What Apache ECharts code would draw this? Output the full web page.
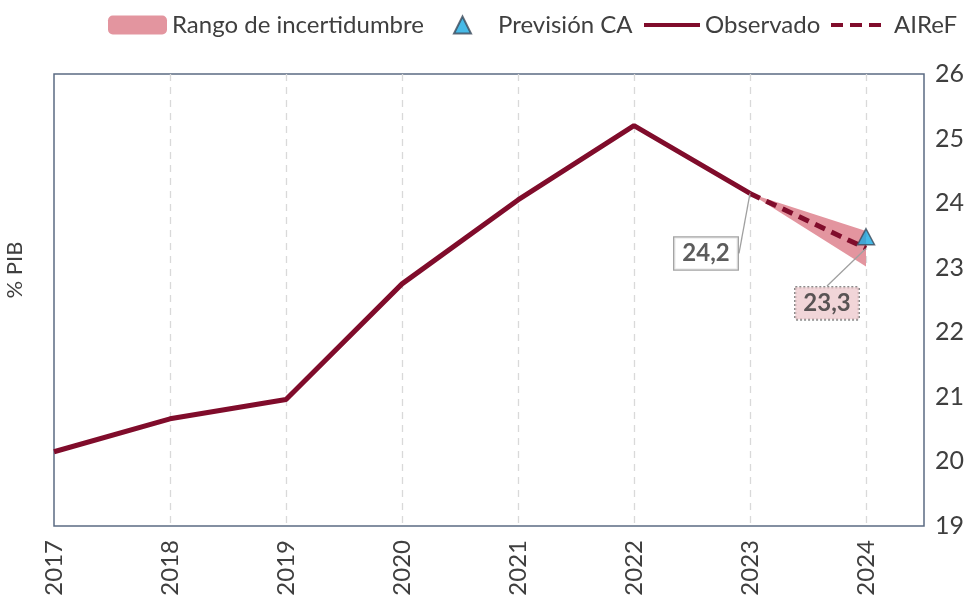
<!DOCTYPE html>
<html><head><meta charset="utf-8">
<script src="https://cdn.jsdelivr.net/npm/echarts@6/dist/echarts.min.js"></script>
<style>html,body{margin:0;padding:0;background:#fff}#c{width:977px;height:596px}</style>
</head><body><div id="c"></div>
<script>
const years = [2017, 2018, 2019, 2020, 2021, 2022, 2023, 2024];
const observedYears = [2017, 2018, 2019, 2020, 2021, 2022, 2023];
const observed = [20.15, 20.66, 20.96, 22.75, 24.05, 25.2, 24.15];
const airefYears = [2023, 2024];
const airef = [24.15, 23.3];
const airefLabels = ['24,2', '23,3'];
const bandYears = [2023, 2024];
const bandLow = [24.15, 23.02];
const bandHigh = [24.15, 23.57];
const caYears = [2024];
const caForecast = [23.48];
const yTicks = [19, 20, 21, 22, 23, 24, 25, 26];

const FONT = 'Lato';
const TXT = '#3F3F3F';
const RED = '#800C2B';

const chart = echarts.init(document.getElementById('c'));
const bandData = [[bandYears[0], bandLow[0], bandHigh[0], bandYears[1], bandLow[1], bandHigh[1]]];
const legText = {fontFamily: FONT, fontSize: 24, color: TXT};

chart.setOption({
  animation: false,
  textStyle: {fontFamily: FONT, color: TXT},
  grid: {left: 54, right: 53, top: 74, bottom: 70, show: true, borderColor: '#5B6B82', borderWidth: 1.5,
         containLabel: false, outerBoundsMode: 'none'},
  legend: [
    {data: ['Rango de incertidumbre'], left: 108, top: 13, padding: 0, itemWidth: 59, itemHeight: 19, icon: 'roundRect',
     textStyle: legText},
    {data: ['Previsión CA'], left: 453, top: 13, padding: 0, itemWidth: 17, itemHeight: 17, icon: 'triangle',
     textStyle: Object.assign({}, legText, {padding: [0, 0, 0, 22]})},
    {data: ['Observado'], left: 644, top: 13, padding: 0, itemWidth: 56, itemHeight: 4,
     icon: 'path://M0,0H56V4H0Z', textStyle: legText},
    {data: ['AIReF'], left: 831, top: 13, padding: 0, itemWidth: 50, itemHeight: 4,
     icon: 'path://M0,0H12V4H0Z M19,0H31V4H19Z M38,0H50V4H38Z',
     textStyle: Object.assign({}, legText, {padding: [0, 0, 0, 8]})}
  ],
  xAxis: {
    type: 'value', min: 2017, max: 2024.5, interval: 1,
    axisLine: {show: false}, axisTick: {show: false},
    splitLine: {show: true, showMinLine: false, showMaxLine: false,
                lineStyle: {color: '#D9D9D9', type: [7, 6], width: 1.3}},
    axisLabel: {rotate: 90, fontSize: 24, color: TXT, fontFamily: FONT, margin: 14, showMaxLabel: false,
      formatter: v => (years.includes(v) ? String(v) : '')}
  },
  yAxis: [
    {type: 'value', position: 'right', min: yTicks[0], max: yTicks[yTicks.length - 1], interval: 1,
     axisLine: {show: false}, axisTick: {show: false}, splitLine: {show: false},
     axisLabel: {fontSize: 25, color: TXT, fontFamily: FONT, margin: 11}},
    {type: 'value', position: 'left', min: yTicks[0], max: yTicks[yTicks.length - 1],
     axisLine: {show: false}, axisTick: {show: false}, splitLine: {show: false}, axisLabel: {show: false},
     name: '% PIB', nameLocation: 'middle', nameGap: 28, nameRotate: 90,
     nameTextStyle: {fontSize: 22, color: TXT, fontFamily: FONT, padding: [0, 0, 0, 60]}}
  ],
  series: [
    {
      name: 'Rango de incertidumbre', type: 'custom', z: 1,
      itemStyle: {color: '#E3959F'},
      encode: {x: [0, 3], y: [1, 2, 4, 5]},
      data: bandData,
      renderItem: (params, api) => {
        const p0h = api.coord([api.value(0), api.value(2)]);
        const p1h = api.coord([api.value(3), api.value(5)]);
        const p1l = api.coord([api.value(3), api.value(4)]);
        const p0l = api.coord([api.value(0), api.value(1)]);
        return {type: 'polygon', shape: {points: [p0h, p1h, p1l, p0l]}, style: {fill: '#E3959F'}};
      }
    },
    {
      name: 'Observado', type: 'line', symbol: 'none', z: 3,
      lineStyle: {color: RED, width: 5},
      itemStyle: {color: RED},
      data: observedYears.map((y, i) => [y, observed[i]])
    },
    {
      name: 'AIReF', type: 'line', symbol: 'none', z: 3,
      lineStyle: {color: RED, width: 5, type: [11, 7]},
      itemStyle: {color: RED},
      data: airefYears.map((y, i) => [y, airef[i]])
    },
    {
      name: 'Previsión CA', type: 'scatter', symbol: 'triangle', symbolSize: [17, 16], z: 5,
      itemStyle: {color: '#19A9E1', borderColor: '#3C4A5A', borderWidth: 1.5},
      data: caYears.map((y, i) => [y, caForecast[i]])
    },
    {
      name: 'labels', type: 'scatter', symbolSize: 1, z: 6, silent: true,
      itemStyle: {color: 'rgba(0,0,0,0)'},
      data: airefYears.map((y, i) => ({
        value: [y, airef[i]],
        label: {
          show: true, formatter: airefLabels[i], fontSize: 24, fontWeight: 'bold', color: '#333333', fontFamily: FONT,
          padding: [5, 8, 3, 8],
          backgroundColor: i === 0 ? '#FFFFFF' : '#EDCBCE',
          borderColor: i === 0 ? '#8C8C8C' : '#6E6E6E', borderWidth: 1.3,
          borderType: i === 0 ? 'solid' : [2, 2]
        }
      })),
      labelLine: {show: true, lineStyle: {color: '#A0A0A0', width: 1.3}},
      labelLayout: p => (p.dataIndex === 0 ? {dx: -44, dy: 60} : {dx: -39, dy: 55})
    }
  ]
});
</script></body></html>
